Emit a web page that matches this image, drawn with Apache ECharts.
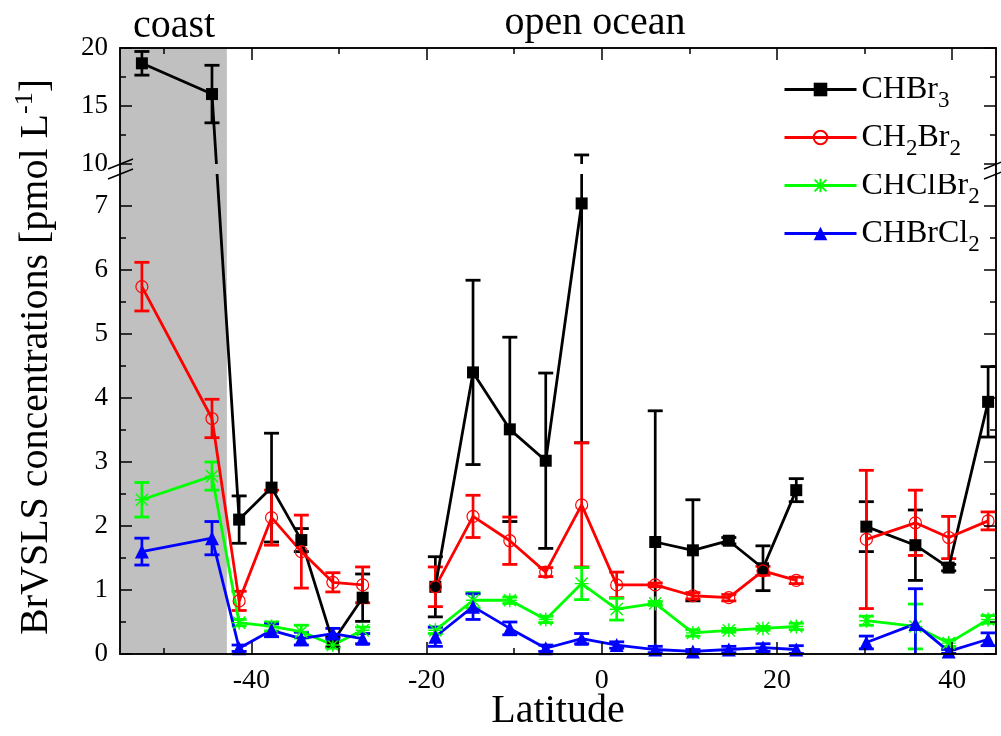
<!DOCTYPE html>
<html>
<head>
<meta charset="utf-8">
<script src="https://cdn.jsdelivr.net/npm/echarts@6/dist/echarts.min.js"></script>
<style>
  html, body { margin: 0; padding: 0; background: #ffffff; }
  #chart { width: 1001px; height: 736px; }
</style>
</head>
<body>
<div id="chart"></div>
<script>
// Station latitudes (degrees, negative = south) and the cruise leg each belongs to
const latitude = [-52.5, -44.5, -41.4, -37.7, -34.3, -30.7, -27.3, -19.0, -14.7, -10.5, -6.4, -2.3,
                  1.7, 6.1, 10.4, 14.5, 18.4, 22.2, 30.2, 35.8, 39.6, 44.1];
const cruiseLeg = [1, 1, 1, 1, 1, 1, 1, 2, 2, 2, 2, 2, 2, 2, 2, 2, 2, 2, 3, 3, 3, 3];

// Mean concentrations [pmol L-1] and standard deviations per station
const chbr3      = [18.68, 16.03, 2.10, 2.60, 1.78, 0.19, 0.88, 1.05, 4.40, 3.51, 3.02, 7.04,
                    null, 1.75, 1.62, 1.77, 1.34, 2.56, 1.99, 1.70, 1.35, 3.94];
const chbr3Err   = [1.02, 2.48, 0.37, 0.85, 0.18, 0.08, 0.37, 0.47, 1.44, 1.44, 1.37, 3.74,
                    null, 2.05, 0.79, 0.05, 0.35, 0.18, 0.39, 0.55, 0.05, 0.55];
const ch2br2     = [5.74, 3.68, 0.83, 2.13, 1.60, 1.12, 1.08, 1.05, 2.15, 1.77, 1.28, 2.33,
                    1.08, 1.08, 0.91, 0.88, 1.30, 1.15, 1.79, 2.05, 1.82, 2.08];
const ch2br2Err  = [0.38, 0.30, 0.15, 0.43, 0.57, 0.15, 0.28, 0.31, 0.33, 0.37, 0.07, 0.97,
                    0.20, 0.03, 0.05, 0.05, 0.07, 0.05, 1.08, 0.51, 0.33, 0.14];
const chclbr2    = [2.41, 2.78, 0.49, 0.43, 0.35, 0.14, 0.37, 0.37, 0.84, 0.84, 0.54, 1.10,
                    0.70, 0.79, 0.33, 0.37, 0.40, 0.43, 0.52, 0.43, 0.17, 0.54];
const chclbr2Err = [0.27, 0.22, 0.05, 0.07, 0.10, 0.05, 0.05, 0.05, 0.12, 0.05, 0.05, 0.25,
                    0.17, 0.03, 0.05, 0.03, 0.03, 0.05, 0.07, 0.35, 0.05, 0.06];
const chbrcl2    = [1.60, 1.81, 0.09, 0.37, 0.24, 0.32, 0.24, 0.27, 0.74, 0.40, 0.09, 0.24,
                    0.14, 0.07, 0.04, 0.07, 0.10, 0.07, 0.18, 0.47, 0.04, 0.23];
const chbrcl2Err = [0.21, 0.26, 0.05, 0.10, 0.10, 0.08, 0.08, 0.15, 0.20, 0.10, 0.05, 0.08,
                    0.05, 0.05, 0.03, 0.05, 0.06, 0.06, 0.10, 0.55, 0.03, 0.10];

const seriesNames = ['CHBr3', 'CH2Br2', 'CHClBr2', 'CHBrCl2'];
const legendLabels = ['CHBr{s|3}', 'CH{s|2}Br{s|2}', 'CHClBr{s|2}', 'CHBrCl{s|2}'];

// Axis ticks
const yMajorTicks = [0, 1, 2, 3, 4, 5, 6, 7, 10, 15, 20];
const yMinorTicks = [0.5, 1.5, 2.5, 3.5, 4.5, 5.5, 6.5, 12.5, 17.5];
const xMajorTicks = [-40, -20, 0, 20, 40];
const xMinorTicks = [-50, -30, -10, 10, 30];

const X_MIN = -55, X_MAX = 45;
const COAST_EDGE = -42.8;   // end of the coastal section

// Broken y axis: 0..7.5 linear, a short gap, then 10..20 compressed
const LOWER_TOP = 7.5, UPPER_BOTTOM = 10, UPPER_TOP = 20;
const GAP = 0.15625;         // size of the break, in lower-segment units
const UPPER_SCALE = 0.18125; // upper-segment unit relative to the lower one

function toAxis(v) {
  if (v <= LOWER_TOP) return v;
  if (v >= UPPER_BOTTOM) return LOWER_TOP + GAP + (v - UPPER_BOTTOM) * UPPER_SCALE;
  return LOWER_TOP + (v - LOWER_TOP) / (UPPER_BOTTOM - LOWER_TOP) * GAP;
}
function fromAxis(t) {
  if (t <= LOWER_TOP) return t;
  return UPPER_BOTTOM + (t - LOWER_TOP - GAP) / UPPER_SCALE;
}
const Y_MAX = toAxis(UPPER_TOP);

const SERIF = '"Liberation Serif", "Times New Roman", serif';
const COLORS = ['#000000', '#ff0000', '#00ff00', '#0000ff'];
const values = [chbr3, ch2br2, chclbr2, chbrcl2];
const errors = [chbr3Err, ch2br2Err, chclbr2Err, chbrcl2Err];

// points of one compound; a '-' entry between legs keeps them unconnected
function lineData(vals) {
  const out = [];
  latitude.forEach((x, i) => {
    if (i > 0 && cruiseLeg[i] !== cruiseLeg[i - 1]) out.push([(x + latitude[i - 1]) / 2, '-']);
    out.push([x, vals[i] == null ? '-' : toAxis(vals[i])]);
  });
  return out;
}
function errData(vals, errs) {
  const out = [];
  latitude.forEach((x, i) => {
    if (vals[i] == null) return;
    out.push([x, toAxis(vals[i] - errs[i]), toAxis(vals[i] + errs[i])]);
  });
  return out;
}
function errRenderer(color) {
  return function (params, api) {
    const x = api.value(0);
    const lo = api.coord([x, api.value(1)]);
    const hi = api.coord([x, api.value(2)]);
    const h = 7.5;
    const style = { stroke: color, lineWidth: 2.7 };
    const cap = { stroke: color, lineWidth: 2.8 };
    return {
      type: 'group',
      children: [
        { type: 'line', shape: { x1: lo[0], y1: lo[1], x2: hi[0], y2: hi[1] }, style },
        { type: 'line', shape: { x1: lo[0] - h, y1: lo[1], x2: lo[0] + h, y2: lo[1] }, style: cap },
        { type: 'line', shape: { x1: hi[0] - h, y1: hi[1], x2: hi[0] + h, y2: hi[1] }, style: cap }
      ]
    };
  };
}

const symbols = [
  { symbol: 'rect', symbolSize: 12, itemStyle: { color: '#000000' } },
  { symbol: 'circle', symbolSize: 12, itemStyle: { color: 'rgba(255,255,255,0)', borderColor: '#ff0000', borderWidth: 1.2 } },
  { symbol: 'path://M0,-1L0,1M-0.87,-0.87L0.87,0.87M-0.87,0.87L0.87,-0.87M-1,0L1,0', symbolSize: 14,
    itemStyle: { color: 'rgba(0,0,0,0)', borderColor: '#00ff00', borderWidth: 1.4 } },
  { symbol: 'triangle', symbolSize: 14, itemStyle: { color: '#0000ff' } }
];

const series = [];
// coastal section shading
series.push({
  type: 'custom', name: 'coast', z: 1, silent: true,
  data: [[X_MIN, COAST_EDGE]],
  encode: { x: [0, 1] },
  renderItem: function (params, api) {
    const a = api.coord([api.value(0), Y_MAX]);
    const b = api.coord([api.value(1), 0]);
    return { type: 'rect', shape: { x: a[0], y: a[1], width: b[0] - a[0], height: b[1] - a[1] },
             style: { fill: '#c0c0c0' } };
  }
});
seriesNames.forEach((name, k) => {
  series.push(Object.assign({
    type: 'line', name: name, z: 2, data: lineData(values[k]),
    connectNulls: false, animation: false,
    lineStyle: { color: COLORS[k], width: 2.8 },
    emphasis: { disabled: true }
  }, symbols[k]));
  series.push({
    type: 'custom', name: name + ' sd', z: 2, clip: true, silent: true,
    data: errData(values[k], errors[k]),
    encode: { x: 0, y: [1, 2] },
    renderItem: errRenderer(COLORS[k])
  });
});
// axis break: blank band across the plot plus the slanted marks on both axes
series.push({
  type: 'custom', name: 'break', z: 5, silent: true,
  data: [[X_MIN, X_MAX, COAST_EDGE]],
  encode: { x: [0, 1, 2] },
  renderItem: function (params, api) {
    const yLo = api.coord([X_MIN, LOWER_TOP])[1];
    const yHi = api.coord([X_MIN, toAxis(UPPER_BOTTOM)])[1];
    const xL = api.coord([api.value(0), 0])[0];
    const xR = api.coord([api.value(1), 0])[0];
    const xC = api.coord([api.value(2), 0])[0];
    const mark = { stroke: '#000', lineWidth: 1.5 };
    const slash = (x, y) => ({ type: 'line', shape: { x1: x - 12, y1: y + 5, x2: x + 13, y2: y - 5 }, style: mark });
    return {
      type: 'group',
      children: [
        { type: 'rect', shape: { x: xL, y: yHi, width: xC - xL, height: yLo - yHi }, style: { fill: '#c0c0c0' } },
        { type: 'rect', shape: { x: xC, y: yHi, width: xR - xC, height: yLo - yHi }, style: { fill: '#ffffff' } },
        slash(xL, yHi), slash(xL, yLo), slash(xR, yHi), slash(xR, yLo)
      ]
    };
  }
});

const axisLine = { show: true, onZero: false, lineStyle: { color: '#000', width: 1.5 } };
function xAxisDef(position, ticks, len, labels) {
  return {
    type: 'value', position: position, min: X_MIN, max: X_MAX, z: 10,
    axisLine: axisLine, splitLine: { show: false },
    axisTick: { show: true, inside: true, length: len, customValues: ticks, lineStyle: { color: '#000', width: 1.5 } },
    axisLabel: labels ? { show: true, customValues: ticks, fontFamily: SERIF, fontSize: 28, color: '#000', margin: 13 }
                      : { show: false }
  };
}
function yAxisDef(position, ticks, len, labels, extra) {
  return Object.assign({
    type: 'value', position: position, min: 0, max: Y_MAX, z: 10,
    axisLine: axisLine, splitLine: { show: false },
    axisTick: { show: true, inside: true, length: len, customValues: ticks.map(toAxis), lineStyle: { color: '#000', width: 1.5 } },
    axisLabel: labels ? { show: true, customValues: ticks.map(toAxis), fontFamily: SERIF, fontSize: 27, color: '#000', margin: 12,
                          formatter: t => String(Math.round(fromAxis(t))) }
                      : { show: false }
  }, extra || {});
}

const chart = echarts.init(document.getElementById('chart'), null, { renderer: 'canvas' });
chart.setOption({
  animation: false,
  backgroundColor: '#ffffff',
  grid: { left: 120, right: 5, top: 48, bottom: 82, containLabel: false, outerBoundsMode: 'none' },
  xAxis: [
    xAxisDef('bottom', xMajorTicks, 12, true),
    xAxisDef('bottom', xMinorTicks, 6, false),
    xAxisDef('top', xMajorTicks, 12, false),
    xAxisDef('top', xMinorTicks, 6, false)
  ],
  yAxis: [
    yAxisDef('left', yMajorTicks, 12, true, {
      name: 'BrVSLS concentrations [pmol L{sup|-1}]', nameLocation: 'middle', nameRotate: 90, nameGap: 64,
      nameTextStyle: { fontFamily: SERIF, fontSize: 40, color: '#000', padding: [0, 12, 0, 0],
        rich: { sup: { fontFamily: SERIF, fontSize: 26, lineHeight: 10, padding: [0, 0, 22, 0] } } }
    }),
    yAxisDef('left', yMinorTicks, 6, false),
    yAxisDef('right', yMajorTicks, 12, false),
    yAxisDef('right', yMinorTicks, 6, false)
  ],
  legend: {
    data: seriesNames, orient: 'vertical', left: 778, top: 62,
    itemWidth: 72, itemHeight: 17, itemGap: 3, selectedMode: false,
    lineStyle: { width: 3 },
    formatter: n => legendLabels[seriesNames.indexOf(n)],
    textStyle: { fontFamily: SERIF, fontSize: 32, color: '#000', lineHeight: 36,
      rich: { s: { fontFamily: SERIF, fontSize: 23, lineHeight: 10, padding: [22, 0, 0, 0] } } }
  },
  graphic: [
    { type: 'text', x: 174, y: 26, style: { text: 'coast', font: '40px ' + SERIF, fill: '#000', textAlign: 'center', textVerticalAlign: 'middle' } },
    { type: 'text', x: 595, y: 23, style: { text: 'open ocean', font: '40px ' + SERIF, fill: '#000', textAlign: 'center', textVerticalAlign: 'middle' } },
    { type: 'text', x: 558, y: 711, style: { text: 'Latitude', font: '40px ' + SERIF, fill: '#000', textAlign: 'center', textVerticalAlign: 'middle' } }
  ],
  series: series
});
</script>
</body>
</html>
